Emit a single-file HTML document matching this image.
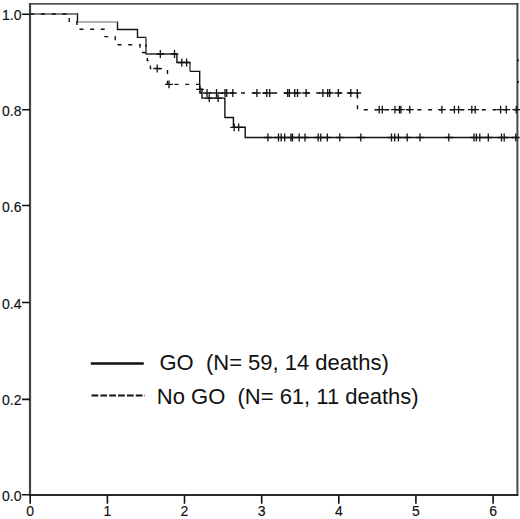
<!DOCTYPE html>
<html><head><meta charset="utf-8"><style>
html,body{margin:0;padding:0;background:#fff;}
body{width:520px;height:519px;overflow:hidden;}
svg{display:block;}
text{font-family:"Liberation Sans",sans-serif;fill:#111;}
</style></head><body>
<svg width="520" height="519" viewBox="0 0 520 519">
<rect width="520" height="519" fill="#fff"/>
<path d="M29 3.8H518.4" stroke="#555" stroke-width="1.8" fill="none"/>
<path d="M517.4 3V495" stroke="#484848" stroke-width="2" fill="none"/>
<path d="M30 3V496" stroke="#444" stroke-width="2.2" fill="none"/>
<path d="M29 494.9H518.4" stroke="#2a2a2a" stroke-width="2" fill="none"/>
<path d="M22 14.2H30M22 109.8H30M22 205.5H30M22 302.5H30M22 399.4H30M22 494.7H30M30.2 495V503.7M107.4 495V503.7M184.5 495V503.7M261.7 495V503.7M338.8 495V503.7M415.9 495V503.7M493.1 495V503.7" stroke="#111" stroke-width="1.6" fill="none"/>
<g font-size="14px" stroke="#111" stroke-width="0.15"><text x="21.5" y="20.2" text-anchor="end">1.0</text><text x="21.5" y="115.8" text-anchor="end">0.8</text><text x="21.5" y="211.5" text-anchor="end">0.6</text><text x="21.5" y="308.5" text-anchor="end">0.4</text><text x="21.5" y="405.4" text-anchor="end">0.2</text><text x="21.5" y="500.7" text-anchor="end">0.0</text><text x="30.2" y="515.7" text-anchor="middle">0</text><text x="107.4" y="515.7" text-anchor="middle">1</text><text x="184.5" y="515.7" text-anchor="middle">2</text><text x="261.7" y="515.7" text-anchor="middle">3</text><text x="338.8" y="515.7" text-anchor="middle">4</text><text x="415.9" y="515.7" text-anchor="middle">5</text><text x="493.1" y="515.7" text-anchor="middle">6</text></g>
<path d="M77.5 13.3 V22.0 M117.5 21.4 V29.5 H137.5 V37.4 H146 M176.9 54.0 V62.5 H190 M190 71.4 H199.7 V89.3 H202 V98.1 H224.9 V117.5 H233.4 V127.3 H245.2 V137.5 H517.4" fill="none" stroke="#111" stroke-width="1.4"/>
<path d="M30 14.0H77.5" fill="none" stroke="#555" stroke-width="1.4"/>
<path d="M77.5 22.0H117.5" fill="none" stroke="#999" stroke-width="1.4"/>
<path d="M146 37.4V54.0" fill="none" stroke="#3a3a3a" stroke-width="1.4"/>
<path d="M145.3 54.0H176.9" fill="none" stroke="#1a1a1a" stroke-width="1.4"/>
<path d="M190 62.5V71.4" fill="none" stroke="#444" stroke-width="1.4"/>
<path d="M146 44.4V47.0" fill="none" stroke="#111" stroke-width="1.5"/>
<path d="M517 60.4H519M517 81.9H519" fill="none" stroke="#111" stroke-width="1.6"/>
<path d="M30 14.0 H69.2 V22.0 H77 V29.2 H104 V36.6 H115.2 V44.8 H140 V52.5 H147.3 V60.5 H150.4 V68.6 H167.5 V84.4 H200 V93 H357.5 V109.7 H517.4" fill="none" stroke="#111" stroke-width="1.4" stroke-dasharray="4 6.73" stroke-dashoffset="-0.27"/>
<path d="M156.4 54.0h7.8M160.3 50.1v7.8M170.6 54.0h7.8M174.5 50.1v7.8M177.9 62.5h7.8M181.8 58.6v7.8M182.7 62.5h7.8M186.6 58.6v7.8M196.1 89.3h7.8M200 85.4v7.8M205.3 98.1h7.8M209.2 94.2v7.8M214.2 98.1h7.8M218.1 94.2v7.8M230.3 127.3h7.8M234.2 123.4v7.8M234.8 127.3h7.8M238.7 123.4v7.8M264.0 137.5h7.8M267.9 133.6v7.8M274.6 137.5h7.8M278.5 133.6v7.8M277.3 137.5h7.8M281.2 133.6v7.8M280.8 137.5h7.8M284.7 133.6v7.8M287.0 137.5h7.8M290.9 133.6v7.8M288.6 137.5h7.8M292.5 133.6v7.8M295.3 137.5h7.8M299.2 133.6v7.8M301.1 137.5h7.8M305 133.6v7.8M314.3 137.5h7.8M318.2 133.6v7.8M316.9 137.5h7.8M320.8 133.6v7.8M323.4 137.5h7.8M327.3 133.6v7.8M335.9 137.5h7.8M339.8 133.6v7.8M356.9 137.5h7.8M360.8 133.6v7.8M387.6 137.5h7.8M391.5 133.6v7.8M390.8 137.5h7.8M394.7 133.6v7.8M394.5 137.5h7.8M398.4 133.6v7.8M403.3 137.5h7.8M407.2 133.6v7.8M416.1 137.5h7.8M420 133.6v7.8M444.9 137.5h7.8M448.8 133.6v7.8M470.1 137.5h7.8M474 133.6v7.8M472.5 137.5h7.8M476.4 133.6v7.8M475.9 137.5h7.8M479.8 133.6v7.8M484.4 137.5h7.8M488.3 133.6v7.8M497.6 137.5h7.8M501.5 133.6v7.8M500.3 137.5h7.8M504.2 133.6v7.8M511.9 137.5h7.8M515.8 133.6v7.8M153.3 68.5h7.8M157.2 64.6v7.8M165.1 84.4h7.8M169.0 80.5v7.8M203.1 93.0h7.8M207 89.1v7.8M212.6 93.0h7.8M216.5 89.1v7.8M221.1 93.0h7.8M225 89.1v7.8M222.8 93.0h7.8M226.7 89.1v7.8M228.9 93.0h7.8M232.8 89.1v7.8M253.0 93.0h7.8M256.9 89.1v7.8M262.9 93.0h7.8M266.8 89.1v7.8M265.8 93.0h7.8M269.7 89.1v7.8M283.8 93.0h7.8M287.7 89.1v7.8M285.5 93.0h7.8M289.4 89.1v7.8M290.8 93.0h7.8M294.7 89.1v7.8M293.6 93.0h7.8M297.5 89.1v7.8M302.2 93.0h7.8M306.1 89.1v7.8M319.0 93.0h7.8M322.9 89.1v7.8M323.8 93.0h7.8M327.7 89.1v7.8M325.8 93.0h7.8M329.7 89.1v7.8M334.4 93.0h7.8M338.3 89.1v7.8M346.9 93.0h7.8M350.8 89.1v7.8M353.4 93.0h7.8M357.3 89.1v7.8M375.3 109.7h7.8M379.2 105.8v7.8M378.4 109.7h7.8M382.3 105.8v7.8M391.1 109.7h7.8M395 105.8v7.8M395.5 109.7h7.8M399.4 105.8v7.8M397.0 109.7h7.8M400.9 105.8v7.8M405.9 109.7h7.8M409.8 105.8v7.8M438.0 109.7h7.8M441.9 105.8v7.8M450.5 109.7h7.8M454.4 105.8v7.8M454.7 109.7h7.8M458.6 105.8v7.8M467.9 109.7h7.8M471.8 105.8v7.8M471.3 109.7h7.8M475.2 105.8v7.8M496.7 109.7h7.8M500.6 105.8v7.8M502.4 109.7h7.8M506.3 105.8v7.8M512.4 109.7h7.8M516.3 105.8v7.8" fill="none" stroke="#111" stroke-width="1.3"/>
<path d="M90.8 363.5H143.8" stroke="#111" stroke-width="2.4"/>
<path d="M91.5 395.5H145" stroke="#111" stroke-width="2" stroke-dasharray="6.8 2.05"/>
<g font-size="22px" style="white-space:pre">
<text transform="translate(159.5 369.5) scale(1 1.03)" xml:space="preserve">GO  (N= 59, 14 deaths)</text>
<text transform="translate(156.8 403.8) scale(1 1.03)" xml:space="preserve">No GO  (N= 61, 11 deaths)</text>
</g>
</svg>
</body></html>
